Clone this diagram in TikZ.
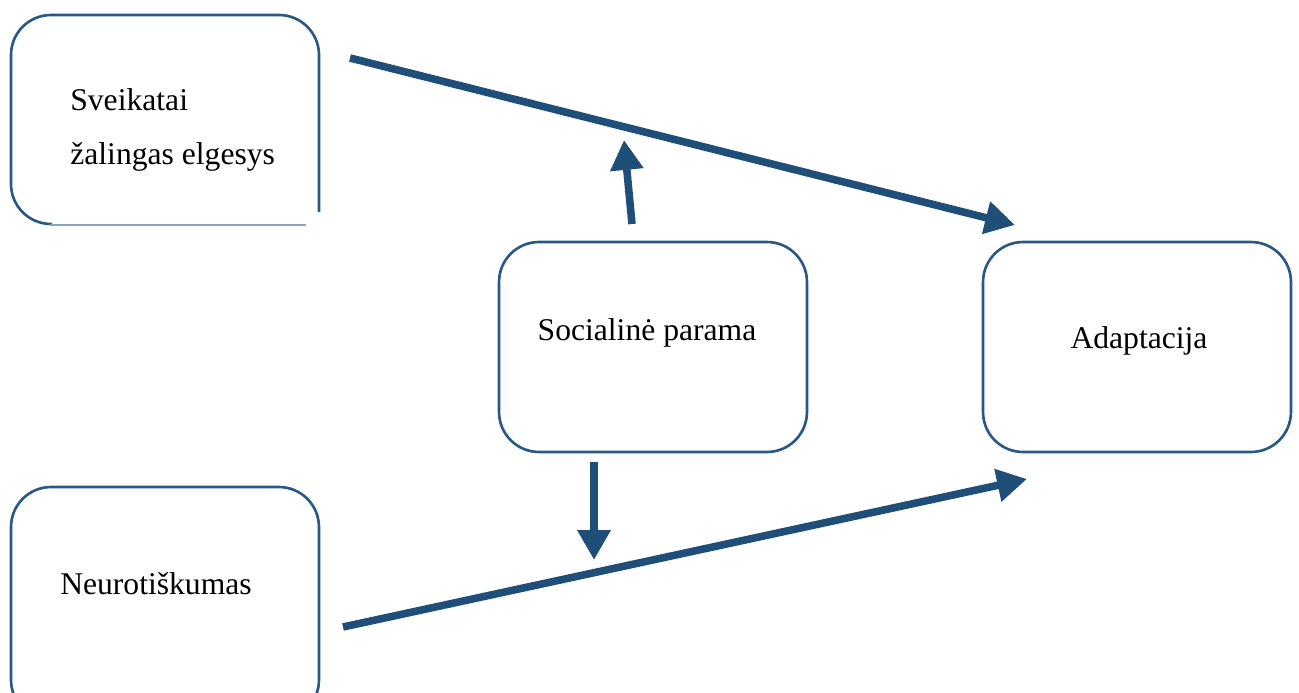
\documentclass[tikz,border=0pt]{standalone}
\usepackage{fontspec}
\setmainfont{Liberation Serif}
\usetikzlibrary{arrows.meta, positioning}
\definecolor{arrowblue}{RGB}{31, 78, 121}
\definecolor{boxblue}{RGB}{40, 88, 134}

\begin{document}
\begin{tikzpicture}[x=0.02cm, y=-0.02cm,
    box/.style={draw=boxblue, line width=1.5pt, rounded corners=0.8cm, minimum width=6.16cm, minimum height=4.2cm},
    lbl/.style={font=\fontsize{18}{31}\selectfont, inner sep=0pt},
    link/.style={arrowblue, line width=4.3pt, -{Triangle[length=17pt, width=18pt]}}]
  \useasboundingbox (0,0) rectangle (1299,693);

  % kairėje viršuje: atviras kampas apačioje
  \draw[boxblue, line width=1.5pt, rounded corners=0.8cm]
    (319,212) -- (319,15) -- (11,15) -- (11,224) -- (52,224);
  \draw[boxblue!55, line width=0.6pt] (50,225) -- (306,225);
  \node[lbl, anchor=north west, align=left] (sveik) at (70,88)
    {Sveikatai\\žalingas elgesys};

  % viduryje
  \node[box] (soc) at (653,347) {};
  \node[lbl] (soctxt) at (647,333) {Socialinė parama};

  % dešinėje
  \node[box] (adapt) at (1137,347) {};
  \node[lbl] (adapttxt) at (1139,341) {Adaptacija};

  % kairėje apačioje (nukirpta)
  \node[box, minimum height=4.66cm] (neuro) at (165,603.5) {};
  \node[lbl] (neurotxt) at (156,584) {Neurotiškumas};

  % rodyklių galai
  \coordinate (topstart) at (350,58);
  \coordinate (topend) at (1015,225);
  \coordinate (botstart) at (343,627);
  \coordinate (botend) at (1027,479);
  \coordinate (upstart) at (632,224);
  \coordinate (upend) at (624,140);
  \coordinate (downstart) at (594,462);
  \coordinate (downend) at (594,560);

  \draw[link] (topstart) -- (topend);
  \draw[link] (botstart) -- (botend);
  \draw[link] (upstart) -- (upend);
  \draw[link] (downstart) -- (downend);
\end{tikzpicture}
\end{document}
